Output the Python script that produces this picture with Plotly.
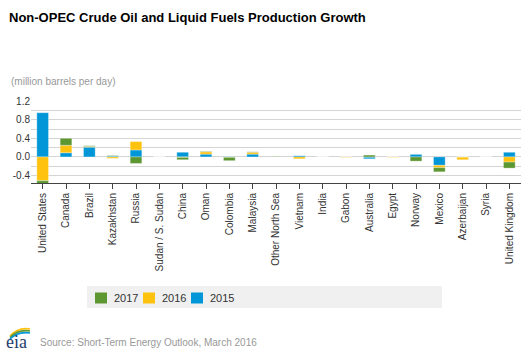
import plotly.graph_objects as go

countries = ["United States", "Canada", "Brazil", "Kazakhstan", "Russia", "Sudan / S. Sudan",
             "China", "Oman", "Colombia", "Malaysia", "Other North Sea", "Vietnam", "India",
             "Gabon", "Australia", "Egypt", "Norway", "Mexico", "Azerbaijan", "Syria",
             "United Kingdom"]
growth_2015 = [0.95, 0.09, 0.21, 0.02, 0.15, 0.0, 0.10, 0.06, 0.01, 0.06, 0.005, 0.03, 0.0,
               0.0, -0.04, 0.0, 0.06, -0.18, 0.0, 0.0, 0.10]
growth_2016 = [-0.51, 0.16, 0.015, -0.03, 0.18, 0.0, -0.01, 0.05, -0.01, 0.04, 0.0, -0.04, 0.0,
               -0.012, 0.0, -0.012, 0.0, -0.05, -0.06, 0.0, -0.11]
growth_2017 = [-0.15, 0.15, 0.015, 0.01, -0.14, 0.0, -0.05, 0.01, -0.07, 0.01, 0.01, 0.0, 0.0,
               0.0, 0.04, 0.0, -0.09, -0.09, 0.0, 0.0, -0.13]
y_tickvals = [-0.4, -0.2, 0.0, 0.2, 0.4, 0.6, 0.8, 1.0, 1.2]
y_ticktext = ["-0.4", "", "0.0", "", "0.4", "", "0.8", "", "1.2"]

series = [("2015", growth_2015, "#0096d7"),
          ("2016", growth_2016, "#ffc20e"),
          ("2017", growth_2017, "#5d9732")]

FONT = "Liberation Sans, Arial, sans-serif"
W, H = 531, 354
ML, MR, MT, MB = 31, 10, 101, 171
PW = W - ML - MR
PH = H - MT - MB


def px(x):
    return (x - ML) / PW


def py(y):
    return (H - MB - y) / PH


fig = go.Figure()
for name, vals, color in series:
    fig.add_trace(go.Bar(x=countries, y=vals, name=name, marker_color=color,
                         marker_line_width=0.5, marker_line_color="rgba(255,255,255,0.6)"))

fig.update_layout(
    width=W, height=H,
    margin=dict(l=ML, r=MR, t=MT, b=MB, pad=0),
    barmode="relative", bargap=0.5,
    plot_bgcolor="white", paper_bgcolor="white",
    font=dict(family=FONT, size=10, color="#333333"),
    title=dict(text="<b>Non-OPEC Crude Oil and Liquid Fuels Production Growth</b>",
               x=9 / W, xanchor="left", y=1 - 17 / H, yanchor="middle",
               xref="container", yref="container",
               font=dict(family=FONT, size=13, color="#000000")),
    xaxis=dict(showgrid=False, showline=True, linecolor="#444444", linewidth=1,
               ticks="outside", ticklen=5, tickcolor="#444444", tickangle=-90,
               tickfont=dict(size=10, color="#333333")),
    yaxis=dict(range=[-0.56, 1.202], tickvals=y_tickvals, ticktext=y_ticktext,
               showgrid=True, gridcolor="#d4d4d4", gridwidth=1, zeroline=False,
               showline=False, ticks="", tickfont=dict(size=10, color="#333333")),
    showlegend=False,
)

# legend background box
fig.add_shape(type="rect", xref="paper", yref="paper",
              x0=px(87), x1=px(442), y0=py(308), y1=py(286),
              fillcolor="#f0f0f0", line_width=0, layer="below")

# legend entries (2017, 2016, 2015), drawn from the series list
for i, (name, _vals, color) in enumerate(reversed(series)):
    x0 = 95 + 48 * i
    fig.add_shape(type="rect", xref="paper", yref="paper",
                  x0=px(x0), x1=px(x0 + 12), y0=py(303.5), y1=py(292.5),
                  fillcolor=color, line_width=0)
    fig.add_annotation(text=name, xref="paper", yref="paper",
                       x=px(x0 + 17), y=py(298), xanchor="left", yanchor="middle",
                       showarrow=False, font=dict(family=FONT, size=11, color="#333333"))

fig.add_annotation(text="(million barrels per day)", xref="paper", yref="paper",
                   x=px(9), y=py(81.5), xanchor="left", yanchor="middle", showarrow=False,
                   font=dict(family=FONT, size=10, color="#999999"))
fig.add_annotation(text="Source: Short-Term Energy Outlook, March 2016", xref="paper", yref="paper",
                   x=px(38), y=py(342), xanchor="left", yanchor="middle", showarrow=False,
                   font=dict(family=FONT, size=10, color="#999999"))
fig.add_annotation(text="eia", xref="paper", yref="paper",
                   x=px(16), y=py(342), xanchor="center", yanchor="middle", showarrow=False,
                   font=dict(family="Liberation Serif, serif", size=18, color="#1f3d6b"))

# logo swooshes
for (y0, y1, col) in [(336, 328, "#ffc20e"), (337.5, 330, "#5d9732"), (339, 332, "#0096d7")]:
    fig.add_shape(type="path", xref="paper", yref="paper",
                  path=f"M {px(10)} {py(y0)} Q {px(18)} {py(y1 - 1)} {px(30)} {py(y1 + 1)}",
                  line=dict(color=col, width=1.6))

fig.write_html("out.html")
